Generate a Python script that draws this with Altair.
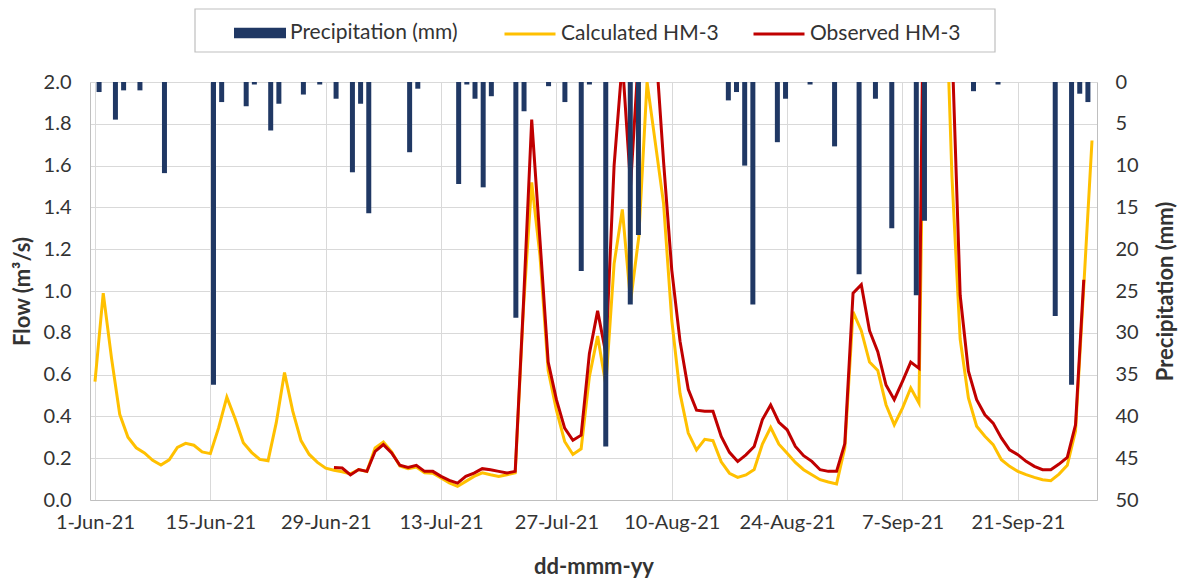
import altair as alt
import pandas as pd

# ---------------- data ----------------
dates = [d.strftime("%Y-%m-%d") for d in pd.date_range("2021-06-01", "2021-09-30")]

tick_labels = ["1-Jun-21", "15-Jun-21", "29-Jun-21", "13-Jul-21", "27-Jul-21",
               "10-Aug-21", "24-Aug-21", "7-Sep-21", "21-Sep-21"]

# precipitation (mm), only the rainy days (day index from 1-Jun-21)
precip_day = [0, 2, 3, 5, 8, 14, 15, 18, 19, 21, 22, 25, 27, 29, 31, 32, 33, 38, 39,
              44, 45, 46, 47, 48, 51, 52, 55, 57, 59, 60, 62, 65, 66, 77, 78, 79, 80,
              83, 84, 87, 90, 93, 95, 97, 100, 101, 107, 110, 117, 119, 120, 121]
precip_mm = [1.2, 4.5, 1.0, 1.0, 10.9, 36.2, 2.4, 2.9, 0.3, 5.8, 2.6, 1.5, 0.3, 2.0,
             10.8, 2.6, 15.7, 8.4, 0.8, 12.2, 0.3, 2.0, 12.6, 1.7, 28.2, 3.5, 0.5, 2.4,
             22.6, 0.3, 43.6, 26.6, 18.3, 2.2, 1.2, 10.0, 26.6, 7.2, 2.0, 0.3, 7.7,
             23.0, 2.0, 17.5, 25.5, 16.6, 1.1, 0.3, 28.0, 36.2, 1.4, 2.4]

calculated = [0.566, 0.99, 0.68, 0.41, 0.30, 0.25, 0.225, 0.19, 0.167, 0.192,
              0.252, 0.271, 0.262, 0.23, 0.222, 0.345, 0.492, 0.39, 0.274, 0.228,
              0.194, 0.188, 0.37, 0.61, 0.425, 0.284, 0.218, 0.18, 0.152, 0.142,
              0.135, 0.125, 0.146, 0.137, 0.249, 0.277, 0.23, 0.163, 0.15, 0.158,
              0.13, 0.128, 0.105, 0.082, 0.065, 0.089, 0.113, 0.13, 0.121, 0.113,
              0.121, 0.13, 0.92, 1.52, 1.17, 0.62, 0.43, 0.28, 0.218, 0.245,
              0.59, 0.785, 0.55, 1.13, 1.39, 0.95, 1.26, 2.0, 1.71, 1.42,
              0.86, 0.51, 0.32, 0.24, 0.29, 0.284, 0.183, 0.128, 0.108, 0.12,
              0.146, 0.268, 0.347, 0.267, 0.224, 0.18, 0.145, 0.121, 0.097, 0.086,
              0.077, 0.25, 0.90, 0.81, 0.66, 0.62, 0.456, 0.36, 0.44, 0.536,
              0.464, 3.2, 3.5, 2.75, 1.55, 0.77, 0.488, 0.353, 0.305, 0.265,
              0.193, 0.161, 0.137, 0.121, 0.108, 0.097, 0.092, 0.124, 0.166, 0.33,
              1.02, 1.72]

observed_start = 29
observed = [0.156, 0.153, 0.12, 0.146, 0.137, 0.233, 0.265, 0.225, 0.166, 0.156,
            0.166, 0.137, 0.137, 0.113, 0.094, 0.081, 0.113, 0.129, 0.15, 0.145,
            0.137, 0.129, 0.137, 0.94, 1.82, 1.245, 0.66, 0.48, 0.344, 0.286,
            0.31, 0.70, 0.905, 0.70, 1.60, 2.1, 1.505, 2.15, 2.3, 2.2,
            1.62, 1.1, 0.76, 0.53, 0.43, 0.425, 0.425, 0.304, 0.228, 0.184,
            0.216, 0.256, 0.385, 0.455, 0.372, 0.336, 0.256, 0.212, 0.185, 0.145,
            0.137, 0.137, 0.27, 0.99, 1.03, 0.81, 0.71, 0.55, 0.48, 0.568,
            0.66, 0.63, 4.0, 3.8, 3.3, 2.19, 0.98, 0.616, 0.48, 0.408,
            0.368, 0.297, 0.24, 0.217, 0.185, 0.161, 0.145, 0.145, 0.172, 0.204,
            0.36, 1.054]

# ---------------- tables ----------------
n = len(dates)
calc_df = pd.DataFrame({"day": list(range(n)), "flow": calculated,
                        "series": "Calculated HM-3"})
obs_df = pd.DataFrame({"day": list(range(observed_start, observed_start + len(observed))),
                       "flow": observed, "series": "Observed HM-3"})
# bars sit in the middle of their day slot on Excel's category axis
bar_df = pd.DataFrame({"slot": [(d + 0.5) * (n - 1) / n for d in precip_day],
                       "mm": precip_mm, "zero": 0.0,
                       "series": "Precipitation (mm)"})

FONT = "Lato"
NAVY = "#203864"
YELLOW = "#FFC000"
RED = "#C00000"
TXT = "#333333"
TICK_FS = 20
LEG_FS = 21

x_vals = [14 * i for i in range(len(tick_labels))]
label_expr = "[" + ",".join("'%s'" % t for t in tick_labels) + "][round(datum.value/14)]"

x_scale = alt.Scale(domain=[0, n - 1], nice=False, zero=False)
x_axis = alt.Axis(values=x_vals, labelExpr=label_expr, grid=True, gridColor="#D9D9D9",
                  domainColor="#BFBFBF", ticks=False, labelPadding=12,
                  labelFontSize=TICK_FS, labelFont=FONT, labelColor=TXT,
                  title="dd-mmm-yy", titleFont=FONT, titleFontSize=22,
                  titleFontWeight="bold", titleColor=TXT, titleY=66,
                  titleBaseline="middle")

flow_scale = alt.Scale(domain=[0, 2], nice=False)
flow_axis = alt.Axis(values=[round(0.2 * i, 1) for i in range(11)], format=".1f",
                     grid=True, gridColor="#D9D9D9", domainColor="#BFBFBF", ticks=False,
                     labelPadding=19, labelFontSize=TICK_FS, labelFont=FONT,
                     labelColor=TXT, title="Flow (m³/s)", titleFont=FONT,
                     titleFontSize=22, titleFontWeight="bold", titleColor=TXT,
                     titleX=-68, titleY=209, titleBaseline="middle", titleAngle=270)


def line_legend(x):
    return alt.Legend(orient="none", legendX=x, legendY=-75, title=None,
                      symbolType="stroke", symbolSize=2601, symbolStrokeWidth=3,
                      labelFontSize=LEG_FS, labelFont=FONT, labelColor=TXT,
                      labelOffset=4, labelLimit=400, padding=0)


calc_line = alt.Chart(calc_df).mark_line(strokeWidth=3, clip=True).encode(
    x=alt.X("day:Q", scale=x_scale, axis=x_axis),
    y=alt.Y("flow:Q", scale=flow_scale, axis=flow_axis),
    stroke=alt.Stroke("series:N",
                      scale=alt.Scale(domain=["Calculated HM-3"], range=[YELLOW]),
                      legend=line_legend(413)),
)

obs_line = alt.Chart(obs_df).mark_line(strokeWidth=3, clip=True).encode(
    x=alt.X("day:Q", scale=x_scale),
    y=alt.Y("flow:Q", scale=flow_scale),
    color=alt.Color("series:N",
                    scale=alt.Scale(domain=["Observed HM-3"], range=[RED]),
                    legend=line_legend(662)),
)

lines = alt.layer(calc_line, obs_line)

bars = alt.Chart(bar_df).mark_bar(size=5).encode(
    x=alt.X("slot:Q", scale=x_scale),
    y=alt.Y("mm:Q", scale=alt.Scale(domain=[0, 50], reverse=True, nice=False),
            axis=alt.Axis(orient="right", values=list(range(0, 51, 5)), grid=False,
                          domainColor="#BFBFBF", ticks=False, labelPadding=18,
                          labelFontSize=TICK_FS, labelFont=FONT, labelColor=TXT,
                          title="Precipitation (mm)", titleFont=FONT, titleFontSize=22,
                          titleFontWeight="bold", titleColor=TXT,
                          titleX=68, titleY=209, titleBaseline="middle",
                          titleAngle=270)),
    y2=alt.Y2("zero:Q"),
    fill=alt.Fill("series:N",
                  scale=alt.Scale(domain=["Precipitation (mm)"], range=[NAVY]),
                  legend=alt.Legend(orient="none", legendX=144, legendY=-75,
                                    title=None, symbolType="M-1,-0.2H1V0.2H-1Z",
                                    symbolSize=2704, symbolStrokeWidth=0,
                                    labelFontSize=LEG_FS, labelFont=FONT,
                                    labelColor=TXT, labelOffset=4, labelLimit=400,
                                    padding=0)),
)

legend_box = alt.Chart(alt.Data(values=[{"k": 1}])).mark_rect(
    fill="white", stroke="#BFBFBF", strokeWidth=1.2
).encode(x=alt.value(105), x2=alt.value(905), y=alt.value(-73), y2=alt.value(-30))

chart = alt.layer(legend_box, lines, bars).resolve_scale(
    y="independent", stroke="independent", color="independent", fill="independent"
).properties(
    width=1007, height=418,
    autosize=alt.AutoSizeParams(type="none"),
    padding={"left": 90, "top": 82, "right": 83, "bottom": 81},
    background="white",
).configure_view(stroke=None)

chart.save("out.html", embed_options={"renderer": "svg", "actions": False})
